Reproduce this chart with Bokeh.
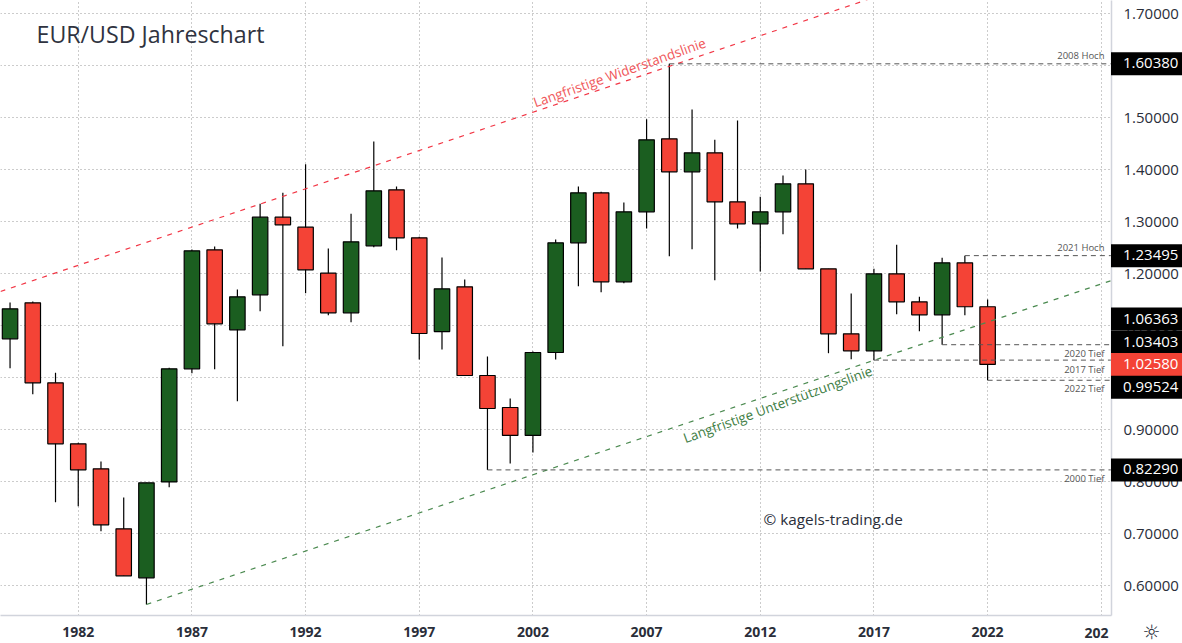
from bokeh.plotting import figure
from bokeh.models import Label, FixedTicker, NumeralTickFormatter, ColumnDataSource
from bokeh.core.properties import value
from bokeh.embed import file_html
from bokeh.resources import INLINE
import math

years = list(range(1979, 2023))
tops = [1.1327,1.1442,0.9904,0.8731,0.8250,0.7096,0.7981,1.0173,1.2442,1.2462,1.1558,1.3089,1.3089,1.2896,1.2012,1.2615,1.3596,1.3615,
        1.2692,1.1712,1.1750,1.0044,0.9429,1.0487,1.2596,1.3558,1.3558,1.3192,1.4577,1.4596,1.4327,1.4327,1.3385,1.3192,1.3731,1.3731,
        1.2096,1.0846,1.2000,1.2000,1.1462,1.2212,1.2212,1.1366]
bottoms = [1.0750,0.9904,0.8731,0.8231,0.7173,0.6192,0.6154,0.7998,1.0173,1.1039,1.0923,1.1596,1.2942,1.2077,1.1250,1.1250,1.2538,1.2692,
           1.0852,1.0890,1.0044,0.9410,0.8891,0.8891,1.0487,1.2596,1.1846,1.1846,1.3192,1.3962,1.3962,1.3385,1.2962,1.2962,1.3192,1.2096,
           1.0846,1.0519,1.0519,1.1462,1.1212,1.1212,1.1366,1.0258]
highs = [1.1448,1.1467,1.0096,0.8750,0.8391,0.7698,0.7981,1.0192,1.2467,1.2525,1.1698,1.3346,1.3558,1.4108,1.2487,1.3154,1.4544,1.3679,
         1.2712,1.2314,1.1890,1.0410,0.9602,1.0506,1.2660,1.3679,1.3577,1.3371,1.4973,1.6038,1.5160,1.4577,1.4948,1.3481,1.3890,1.4006,
         1.2096,1.1621,1.2096,1.2558,1.1558,1.2308,1.23495,1.1506]
lows = [1.0185,0.9685,0.7608,0.7531,0.7050,0.6192,0.5640,0.7896,1.0088,1.0166,0.9550,1.1281,1.0608,1.1627,1.1204,1.1069,1.2512,1.2454,
        1.0352,1.0544,1.0044,0.8229,0.8352,0.8564,1.0352,1.1762,1.1646,1.1819,1.2871,1.2339,1.2473,1.1877,1.2871,1.2044,1.2762,1.2096,
        1.0473,1.0358,1.0340,1.1223,1.0896,1.06363,1.1204,0.99524]
is_up = [1,0,0,0,0,0,1,1,1,0,1,1,0,0,0,1,1,0,0,1,0,0,0,1,1,1,0,1,1,0,1,0,0,1,1,0,0,0,1,0,0,1,0,0]

x_ticks = [1982,1987,1992,1997,2002,2007,2012,2017,2022,2027]
y_ticks = [0.6,0.7,0.8,0.9,1.0,1.1,1.2,1.3,1.4,1.5,1.6,1.7]

resist_x = [1978.58, 2017.0]
resist_y = [1.1660, 1.7314]
support_x = [1985.0, 2027.45]
support_y = [0.5640, 1.1871]

levels = [(2008, 1.6038, "2008 Hoch"), (2021, 1.23495, "2021 Hoch"), (2020, 1.06363, "2020 Tief"),
          (2017, 1.03403, "2017 Tief"), (2022, 0.99524, "2022 Tief"), (2000, 0.8229, "2000 Tief")]
level_end = 2027.45

tags = [(1.6038, "1.60380", "#000000"), (1.23495, "1.23495", "#000000"), (1.06363, "1.06363", "#000000"),
        (1.03403, "1.03403", "#000000"), (1.0258, "1.02580", "#f44336"), (0.99524, "0.99524", "#000000"), (0.8229, "0.82290", "#000000")]
tag_shift = {"1.06363": 25.7, "1.03403": 18.0, "0.99524": -7}

GREEN = "#1b5e20"
RED = "#f44336"
FONT = "Open Sans"

p = figure(width=None, height=None, frame_width=1111, frame_height=615, output_backend="svg", toolbar_location=None,
           x_range=(1978.58, 2027.45), y_range=(0.5429, 1.72558),
           y_axis_location="right", min_border_left=0, min_border_top=0, min_border_right=71, min_border_bottom=28)
p.styles = {"position": "absolute", "left": "0", "top": "0", "width": "1182px", "height": "643px", "overflow": "hidden"}
p.outline_line_color = None

p.xaxis.ticker = FixedTicker(ticks=x_ticks)
p.xaxis.major_label_overrides = {2027: ""}
p.yaxis.ticker = FixedTicker(ticks=y_ticks)
p.yaxis.formatter = NumeralTickFormatter(format="0.00000")
for ax in (p.xaxis, p.yaxis):
    ax.major_tick_line_color = None
    ax.minor_tick_line_color = None
    ax.major_tick_out = 0
    ax.major_tick_in = 0
    ax.minor_tick_out = 0
    ax.minor_tick_in = 0
    ax.axis_line_color = "#d1d4dc"
    ax.axis_line_width = 1.5
    ax.major_label_text_font = FONT
    ax.major_label_text_color = "#2a2e39"
p.yaxis.major_label_text_font_size = "15px"
p.yaxis.major_label_standoff = 12
p.xaxis.major_label_text_font_size = "14px"
p.xaxis.major_label_text_font_style = "bold"
p.xaxis.major_label_standoff = 11

for g in (p.xgrid, p.ygrid):
    g.grid_line_color = "#999999"
    g.grid_line_dash = "1 3"
    g.grid_line_width = 1

src = ColumnDataSource(dict(x=years, top=tops, bottom=bottoms, high=highs, low=lows,
                            color=[GREEN if u else RED for u in is_up]))
p.segment("x", "high", "x", "low", source=src, line_color="#000000", line_width=1.2)
p.vbar("x", width=0.68, top="top", bottom="bottom", source=src, fill_color="color", line_color="#000000", line_width=1.2)

p.line(resist_x, resist_y, line_color="#f23645", line_width=1.2, line_dash="5 6")
p.line(support_x, support_y, line_color="#4b8a50", line_width=1.2, line_dash="5 6")

for yr, val, name in levels:
    p.line([yr, level_end], [val, val], line_color="#555555", line_width=1, line_dash="5 4")

p.text([2005.81], [1.5871], text=["Langfristige Widerstandslinie"], angle=math.radians(19.5),
       text_align="center", text_baseline="middle", text_color="#f0575a",
       text_font=value(FONT), text_font_size="13.5px")
p.text([2012.77], [0.9487], text=["Langfristige Unterstützungslinie"], angle=math.radians(20),
       text_align="center", text_baseline="middle", text_color="#3e7d43",
       text_font=value(FONT), text_font_size="13.5px")

def lab(text, x, y, side="center", **kw):
    lb = Label(text=text, x=x, y=y, x_units="canvas", y_units="canvas", text_baseline="middle",
               text_font=kw.pop("font", FONT), **kw)
    p.add_layout(lb, side)

lab("EUR/USD Jahreschart", 36, 33, text_font_size="23.2px", text_color="#2f3340")
lab("© kagels-trading.de", 763, 518, text_font_size="15.3px", text_color="#2a2e39")
lab("☼", 1142, 631, side="right", text_font_size="20px", text_color="#2a2e39", font="DejaVu Sans")
lab("202", 1084, 632, side="below", text_font_size="14px", text_font_style="bold", text_color="#2a2e39")

small = {"2008 Hoch": 54.5, "2021 Hoch": 246.5, "2020 Tief": 352.7, "2017 Tief": 368.7, "2022 Tief": 388, "2000 Tief": 478}
for _, _, name in levels:
    lab(name, 1104, small[name], text_font_size="9.5px", text_color="#555555", text_align="right")

for val, txt, col in tags:
    p.add_layout(Label(text=txt, x=1110.5, y=val, x_units="canvas", y_units="data", y_offset=tag_shift.get(txt, 0),
                       text_baseline="middle", text_font=FONT, text_font_size="15px", text_color="#ffffff",
                       background_fill_color=col, padding=(12, 5, 6, 7)), "right")

# price-scale and time-scale rules that run on past the plot frame
p.add_layout(Label(text="", x=1110, y=615, x_units="canvas", y_units="canvas", text_font_size="1px", text_baseline="top",
                   background_fill_color="#d1d4dc", padding=(1, 0, 0, 28)), "right")
p.add_layout(Label(text="", x=1110, y=614.5, x_units="canvas", y_units="canvas", text_font_size="1px", text_baseline="top",
                   background_fill_color="#d1d4dc", padding=(72, 0, 0, 1)), "right")

open("out.html", "w").write(file_html(p, INLINE))
